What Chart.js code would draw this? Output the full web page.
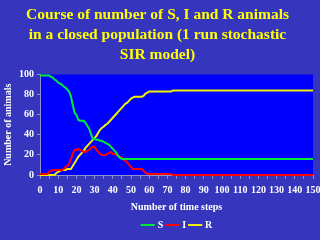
<!DOCTYPE html>
<html><head><meta charset="utf-8">
<script src="https://cdn.jsdelivr.net/npm/chart.js@4.4.1/dist/chart.umd.min.js"></script>
<style>html,body{margin:0;padding:0;background:#3535BD;}#c{display:block;}</style>
</head><body>
<canvas id="c" width="320" height="240"></canvas>
<script>
const titleLines = ["Course of number of S, I and R animals", "in a closed population (1 run stochastic", "SIR model)"];
const xTitle = "Number of time steps";
const yTitle = "Number of animals";
// time steps 0..75, then final step 150
const timeSteps = [0,1,2,3,4,5,6,7,8,9,10,11,12,13,14,15,16,17,18,19,20,21,22,23,24,25,26,27,28,29,30,31,32,33,34,35,36,37,38,39,40,41,42,43,44,45,46,47,48,49,50,51,52,53,54,55,56,57,58,59,60,61,62,63,64,65,66,67,68,69,70,71,72,73,74,75,150];
const S = [99,99,99,99,99,99,98,97,95,94,92,91,90,88,87,85,83,78,70,62,60,55,54,54,54,52,49,46,41,36,36,35,35,34,34,33,32,31,30,28,26,24,22,19,17,16,16,16,16,16,16,16,16,16,16,16,16,16,16,16,16,16,16,16,16,16,16,16,16,16,16,16,16,16,16,16,16];
const I = [1,1,1,1,1,3,4,5,5,5,5,5,5,6,8,9,11,16,21,25,25,26,25,24,23,23,24,25,27,28,28,25,23,21,20,20,20,21,22,23,21,21,20,19,18,17,15,14,12,10,8,6,6,6,6,6,6,4,2,1,1,1,1,1,1,1,1,1,1,1,1,1,1,0,0,0,0];
const R = [0,0,0,0,0,0,0,0,0,2,3,4,5,5,5,6,6,6,9,12,15,18,20,22,24,27,29,31,33,35,37,39,42,45,47,48,50,51,53,55,57,59,61,63,65,67,69,71,72,74,76,77,78,78,78,78,78,79,81,82,83,83,83,83,83,83,83,83,83,83,83,83,83,84,84,84,84];
const seriesNames = ["S","I","R"];
const xTickLabels = [0,10,20,30,40,50,60,70,80,90,100,110,120,130,140,150];
const yTickLabels = [0,20,40,60,80,100];

const pts = arr => arr.map((v,i)=>({x:timeSteps[i], y:v}));
const serif = "'Liberation Serif', 'DejaVu Serif', serif";

const bgPlugin = {
  id:'bg',
  beforeDraw(chart){
    const {ctx, chartArea:a} = chart;
    ctx.save();
    ctx.fillStyle = '#3535BD';
    ctx.fillRect(0,0,chart.width,chart.height);
    ctx.fillStyle = '#0000FF';
    ctx.fillRect(a.left, a.top, a.right-a.left, a.bottom-a.top);
    ctx.restore();
  },
  afterLayout(chart){
    const lg = chart.legend, a = chart.chartArea;
    if(!lg) return;
    const shift = (a.left+a.right)/2 - (lg.left+lg.right)/2 + 1;
    lg.left += shift; lg.right += shift;
  }
};

new Chart(document.getElementById('c'), {
  type:'line',
  data:{
    datasets:[
      {label:seriesNames[0], data:pts(S), borderColor:'#00E838', backgroundColor:'#00E838', borderWidth:2, pointRadius:0, tension:0, clip:4},
      {label:seriesNames[1], data:pts(I), borderColor:'#FF0000', backgroundColor:'#FF0000', borderWidth:2, pointRadius:0, tension:0, clip:4},
      {label:seriesNames[2], data:pts(R), borderColor:'#F0F000', backgroundColor:'#F0F000', borderWidth:2, pointRadius:0, tension:0, clip:4}
    ]
  },
  options:{
    responsive:false, animation:false, events:[],
    layout:{padding:{left:2, right:7, top:0, bottom:0}},
    plugins:{
      tooltip:{enabled:false},
      title:{display:true, text:titleLines, color:'#FFFF00', font:{family:serif, size:15.5, weight:'bold', lineHeight:1.28}, padding:{top:5, bottom:10}},
      legend:{display:true, position:'bottom', labels:{color:'#FFFFFF', usePointStyle:true, pointStyle:'line', boxWidth:14, padding:4, font:{family:serif, size:10, weight:'bold'}}}
    },
    scales:{
      x:{type:'linear', min:0, max:150,
        afterFit:(s)=>{ s.paddingRight = 0; },
        border:{color:'#9090D0', width:1},
        grid:{drawOnChartArea:false, drawTicks:true, tickLength:4, color:'#9090D0'},
        ticks:{stepSize:5, autoSkip:false, maxRotation:0, color:'#FFFFFF', padding:5, font:{family:serif, size:10, weight:'bold'},
          callback:(v)=> xTickLabels.includes(v) ? String(v) : ''},
        title:{display:true, text:xTitle, color:'#FFFFFF', font:{family:serif, size:10, weight:'bold'}, padding:{top:0,bottom:3}}
      },
      y:{min:0, max:100,
        border:{color:'#9090D0', width:1},
        grid:{drawOnChartArea:false, drawTicks:true, tickLength:3, color:'#9090D0'},
        ticks:{stepSize:20, color:'#FFFFFF', padding:3, font:{family:serif, size:10, weight:'bold'},
          callback:(v)=> yTickLabels.includes(v) ? String(v) : ''},
        title:{display:true, text:yTitle, color:'#FFFFFF', font:{family:serif, size:10, weight:'bold'}, padding:{top:0,bottom:2}}
      }
    }
  },
  plugins:[bgPlugin]
});
</script>
</body></html>
